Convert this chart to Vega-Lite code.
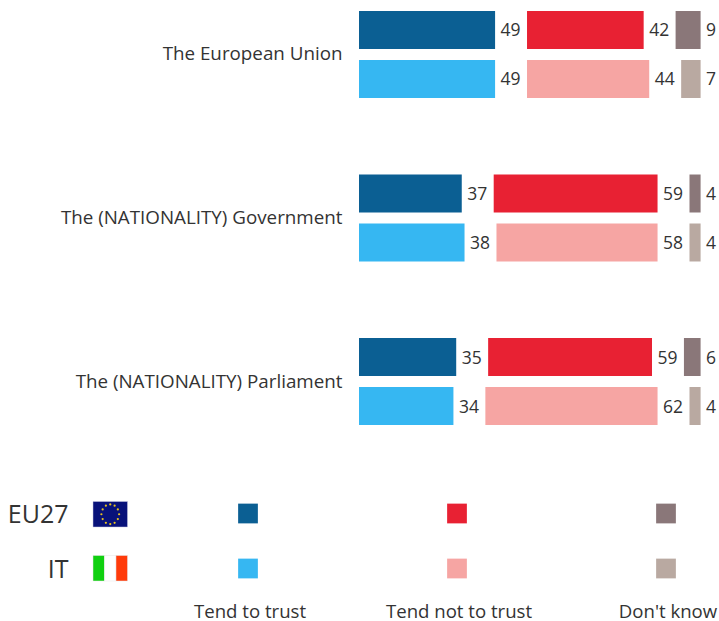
{
"$schema":"https://vega.github.io/schema/vega-lite/v6.json",
"width":719,"height":621,"padding":0,
"autosize":{"type":"fit","contains":"padding"},
"background":"white",
"config":{"view":{"stroke":null},"font":"Open Sans"},
"datasets":{
"trust":[
{"institution":"The European Union","group":"EU27","answer":"Tend to trust","order":0,"value":49},
{"institution":"The European Union","group":"EU27","answer":"Tend not to trust","order":1,"value":42},
{"institution":"The European Union","group":"EU27","answer":"Don't know","order":2,"value":9},
{"institution":"The European Union","group":"IT","answer":"Tend to trust","order":0,"value":49},
{"institution":"The European Union","group":"IT","answer":"Tend not to trust","order":1,"value":44},
{"institution":"The European Union","group":"IT","answer":"Don't know","order":2,"value":7},
{"institution":"The (NATIONALITY) Government","group":"EU27","answer":"Tend to trust","order":0,"value":37},
{"institution":"The (NATIONALITY) Government","group":"EU27","answer":"Tend not to trust","order":1,"value":59},
{"institution":"The (NATIONALITY) Government","group":"EU27","answer":"Don't know","order":2,"value":4},
{"institution":"The (NATIONALITY) Government","group":"IT","answer":"Tend to trust","order":0,"value":38},
{"institution":"The (NATIONALITY) Government","group":"IT","answer":"Tend not to trust","order":1,"value":58},
{"institution":"The (NATIONALITY) Government","group":"IT","answer":"Don't know","order":2,"value":4},
{"institution":"The (NATIONALITY) Parliament","group":"EU27","answer":"Tend to trust","order":0,"value":35},
{"institution":"The (NATIONALITY) Parliament","group":"EU27","answer":"Tend not to trust","order":1,"value":59},
{"institution":"The (NATIONALITY) Parliament","group":"EU27","answer":"Don't know","order":2,"value":6},
{"institution":"The (NATIONALITY) Parliament","group":"IT","answer":"Tend to trust","order":0,"value":34},
{"institution":"The (NATIONALITY) Parliament","group":"IT","answer":"Tend not to trust","order":1,"value":62},
{"institution":"The (NATIONALITY) Parliament","group":"IT","answer":"Don't know","order":2,"value":4}
],
"key":[
{"group":"EU27","answer":"Tend to trust"},{"group":"EU27","answer":"Tend not to trust"},{"group":"EU27","answer":"Don't know"},
{"group":"IT","answer":"Tend to trust"},{"group":"IT","answer":"Tend not to trust"},{"group":"IT","answer":"Don't know"}
],
"euFlagStars":[
{"a":1.5,"b":0.23},{"a":1.88,"b":0.33},{"a":2.16,"b":0.62},{"a":2.27,"b":1.0},{"a":2.16,"b":1.38},{"a":1.88,"b":1.67},
{"a":1.5,"b":1.77},{"a":1.12,"b":1.67},{"a":0.84,"b":1.38},{"a":0.73,"b":1.0},{"a":0.84,"b":0.62},{"a":1.12,"b":0.33}
],
"itFlag":[
{"start":0,"end":1,"stripe":"green"},{"start":1,"end":2,"stripe":"white"},{"start":2,"end":3,"stripe":"red"}
]
},
"resolve":{"scale":{"x":"independent","y":"independent","color":"independent"},"axis":{"x":"independent","y":"independent"}},
"layer":[
{
"data":{"name":"trust"},
"transform":[
{"stack":"value","groupby":["institution","group"],"sort":[{"field":"order","order":"ascending"}],"as":["s0","s1"]},
{"calculate":"datum.s0+11.5*datum.order","as":"x0"},
{"calculate":"datum.s1+11.5*datum.order","as":"x1"},
{"calculate":"datum.group+' '+datum.answer","as":"series"}
],
"encoding":{
"y":{"field":"institution","type":"nominal","title":null,"sort":null,
"scale":{"type":"band","domain":["The European Union","The (NATIONALITY) Government","The (NATIONALITY) Parliament"],"range":[11,425],"paddingInner":0.468,"paddingOuter":0},
"axis":{"orient":"left","offset":-359,"labelPadding":17,"labelOffset":0,"domain":false,"ticks":false,"grid":false,"labelFontSize":18.8,"labelColor":"#333333","labelLimit":320}},
"yOffset":{"field":"group","type":"nominal","scale":{"domain":["EU27","IT"],"paddingInner":0.2245,"paddingOuter":0}}
},
"layer":[
{"mark":{"type":"bar"},
"encoding":{
"x":{"field":"x0","type":"quantitative","axis":null,"scale":{"domain":[0,123],"range":[359,700.6],"nice":false,"zero":false}},
"x2":{"field":"x1"},
"color":{"field":"series","type":"nominal","legend":null,"scale":{
"domain":["EU27 Tend to trust","EU27 Tend not to trust","EU27 Don't know","IT Tend to trust","IT Tend not to trust","IT Don't know"],
"range":["#0B5F93","#E82133","#8A7779","#36B7F2","#F6A5A3","#B9A9A1"]}}}},
{"mark":{"type":"text","align":"left","baseline":"middle","dx":5.5,"dy":1.5,"fontSize":17.5,"color":"#333333"},
"encoding":{
"x":{"field":"x1","type":"quantitative","axis":null,"scale":{"domain":[0,123],"range":[359,700.6],"nice":false,"zero":false}},
"text":{"field":"value","type":"quantitative"}}}
]
},
{
"data":{"name":"key"},
"transform":[{"calculate":"datum.group+' '+datum.answer","as":"series"}],
"mark":{"type":"point","shape":"square","filled":true,"size":390,"opacity":1},
"encoding":{
"x":{"field":"answer","type":"nominal","title":null,"sort":null,
"scale":{"type":"point","domain":["Tend to trust","Tend not to trust","Don't know"],"range":[248,666],"padding":0},
"axis":{"orient":"bottom","offset":-17,"labelOffset":1.5,"domain":false,"ticks":false,"grid":false,"labelAngle":0,"labelFontSize":18.6,"labelColor":"#333333","labelPadding":0,"labelBaseline":"top"}},
"y":{"field":"group","type":"nominal","title":null,"sort":null,
"scale":{"type":"point","domain":["EU27","IT"],"range":[513.5,568.5],"padding":0},
"axis":{"orient":"left","offset":-68,"labelOffset":0.5,"domain":false,"ticks":false,"grid":false,"labelFontSize":25,"labelColor":"#333333","labelPadding":0}},
"color":{"field":"series","type":"nominal","legend":null,"scale":{
"domain":["EU27 Tend to trust","EU27 Tend not to trust","EU27 Don't know","IT Tend to trust","IT Tend not to trust","IT Don't know"],
"range":["#0B5F93","#E82133","#8A7779","#36B7F2","#F6A5A3","#B9A9A1"]}}
}
},
{
"data":{"values":[{"x0":0,"x1":3,"y0":0,"y1":2}]},
"mark":{"type":"rect","color":"#08127A","stroke":"#C9CBE0","strokeWidth":0.5},
"encoding":{
"x":{"field":"x0","type":"quantitative","axis":null,"scale":{"domain":[0,3],"range":[93,127.5],"nice":false,"zero":false}},
"x2":{"field":"x1"},
"y":{"field":"y0","type":"quantitative","axis":null,"scale":{"domain":[0,2],"range":[501.5,527],"nice":false,"zero":false}},
"y2":{"field":"y1"}
}
},
{
"data":{"name":"euFlagStars"},
"mark":{"type":"point","shape":"circle","filled":true,"size":5,"color":"#E6C21E","opacity":1},
"encoding":{
"x":{"field":"a","type":"quantitative","axis":null,"scale":{"domain":[0,3],"range":[93,127.5],"nice":false,"zero":false}},
"y":{"field":"b","type":"quantitative","axis":null,"scale":{"domain":[0,2],"range":[501.5,527],"nice":false,"zero":false}}
}
},
{
"data":{"name":"itFlag"},
"mark":{"type":"rect","stroke":"#E4E4E4","strokeWidth":0.5},
"encoding":{
"x":{"field":"start","type":"quantitative","axis":null,"scale":{"domain":[0,3],"range":[93,127.5],"nice":false,"zero":false}},
"x2":{"field":"end"},
"y":{"datum":0,"type":"quantitative","axis":null,"scale":{"domain":[0,2],"range":[555.5,581],"nice":false,"zero":false}},
"y2":{"datum":2},
"color":{"field":"stripe","type":"nominal","legend":null,"scale":{"domain":["green","white","red"],"range":["#10D010","#FFFFFF","#FF3B0A"]}}
}
}
]
}
